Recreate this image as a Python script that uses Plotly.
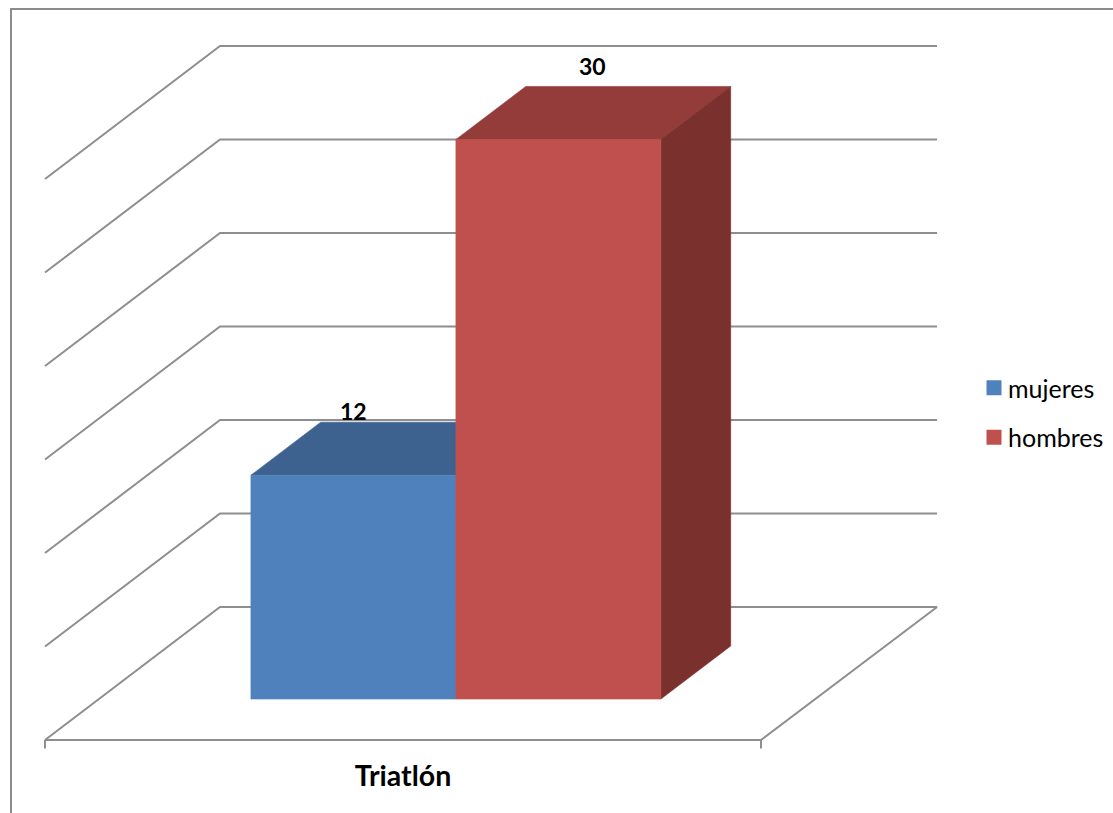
import plotly.graph_objects as go

# ---- data ----
categories = ["Triatlón"]
series_names = ["mujeres", "hombres"]
series_values = [12, 30]
value_ticks = [0, 5, 10, 15, 20, 25, 30]
front_colors = ["#4F81BD", "#C0504D"]
top_colors = ["#3D6290", "#943C39"]
side_colors = ["#2F4C70", "#7A302D"]
label_nudges = [(-70, -8), (-36, -17)]

# ---- oblique projection (floor position u, depth d, value v) to plot coordinates ----
ORIGIN_X, ORIGIN_Y = 45.0, 740.0
FLOOR_W = 716.0
DEPTH_X, DEPTH_Y = 175.0, 133.0
UNIT = 93.5 / 5.0
BAR_UNIT = 18.65
BAR_U0, BAR_W = 0.2123, 0.2863
D_FRONT, D_BACK = 0.308, 0.707
GRID = "#8E8E8E"


def project(u, v, d, unit=UNIT):
    return ORIGIN_X + FLOOR_W * u + DEPTH_X * d, ORIGIN_Y - DEPTH_Y * d - unit * v


def poly(points, color, line_color=None):
    xs, ys = zip(*[project(*p, unit=BAR_UNIT) for p in points])
    return go.Scatter(
        x=list(xs) + [xs[0]], y=list(ys) + [ys[0]], mode="lines", fill="toself",
        fillcolor=color, line=dict(color=line_color or color, width=0.6),
        showlegend=False, hoverinfo="skip",
    )


def wire(points, width=2):
    xs, ys = zip(*[project(*p) for p in points])
    return go.Scatter(x=xs, y=ys, mode="lines", line=dict(color=GRID, width=width),
                      showlegend=False, hoverinfo="skip")


fig = go.Figure()

# walls and floor
for t in value_ticks:
    fig.add_trace(wire([(0, t, 0), (0, t, 1), (1.0015, t, 1)]))
fig.add_trace(wire([(0, 0, 0), (1, 0, 0), (1.0015, 0, 1)]))

# tick marks under the floor edge
for u in [0, 1]:
    fig.add_trace(wire([(u, 0, 0), (u, -0.45, 0)]))

# bars
for i, v in enumerate(series_values):
    u0, u1 = BAR_U0 + i * BAR_W, BAR_U0 + (i + 1) * BAR_W
    fig.add_trace(poly([(u0, v, D_FRONT), (u1, v, D_FRONT), (u1, v, D_BACK), (u0, v, D_BACK)], top_colors[i]))
    fig.add_trace(poly([(u1, 0, D_FRONT), (u1, 0, D_BACK), (u1, v, D_BACK), (u1, v, D_FRONT)], side_colors[i]))
    fig.add_trace(poly([(u0, 0, D_FRONT), (u1, 0, D_FRONT), (u1, v, D_FRONT), (u0, v, D_FRONT)], front_colors[i]))

# data labels
for i, v in enumerate(series_values):
    u = BAR_U0 + (i + 0.5) * BAR_W
    x, y = project(u, v, D_BACK, unit=BAR_UNIT)
    fig.add_trace(go.Scatter(
        x=[x + label_nudges[i][0]], y=[y + label_nudges[i][1]], mode="text", text=[str(v)],
        textfont=dict(family="Lato", size=23, color="#000000", weight="bold"),
        showlegend=False, hoverinfo="skip",
    ))

# category label
cx, cy = project(0.5, 0, 0)
fig.add_trace(go.Scatter(
    x=[cx], y=[cy + 39], mode="text", text=categories,
    textfont=dict(family="Lato", size=28.5, color="#000000", weight="bold"),
    showlegend=False, hoverinfo="skip",
))

# legend entries
for i, name in enumerate(series_names):
    fig.add_trace(go.Scatter(
        x=[None], y=[None], mode="markers", name=name, legendgroup=name,
        marker=dict(symbol="square", size=15, color=front_colors[i]),
    ))

fig.update_layout(
    width=1113, height=813,
    margin=dict(l=0, r=0, t=0, b=0),
    paper_bgcolor="#FFFFFF", plot_bgcolor="#FFFFFF",
    xaxis=dict(range=[0, 1113], visible=False, fixedrange=True),
    yaxis=dict(range=[813, 0], visible=False, fixedrange=True),
    shapes=[dict(type="path", xref="x", yref="y", path="M 1113 9 L 11 9 L 11 813",
                 line=dict(color="#8C8C8C", width=2))],
    legend=dict(
        x=968 / 1113, y=1 - 365 / 813, xref="paper", yref="paper", xanchor="left", yanchor="top",
        font=dict(family="Lato", size=25, color="#000000"),
        tracegroupgap=14, bgcolor="rgba(0,0,0,0)", itemwidth=30,
    ),
    showlegend=True,
)

fig.write_html("out.html", config=dict(displayModeBar=False),
               post_script=("document.body.style.margin='0';"
                            "document.documentElement.style.overflow='hidden';"
                            "document.querySelectorAll('.legendpoints').forEach(function(n){"
                            "n.setAttribute('transform','translate(6,0)');});"))
